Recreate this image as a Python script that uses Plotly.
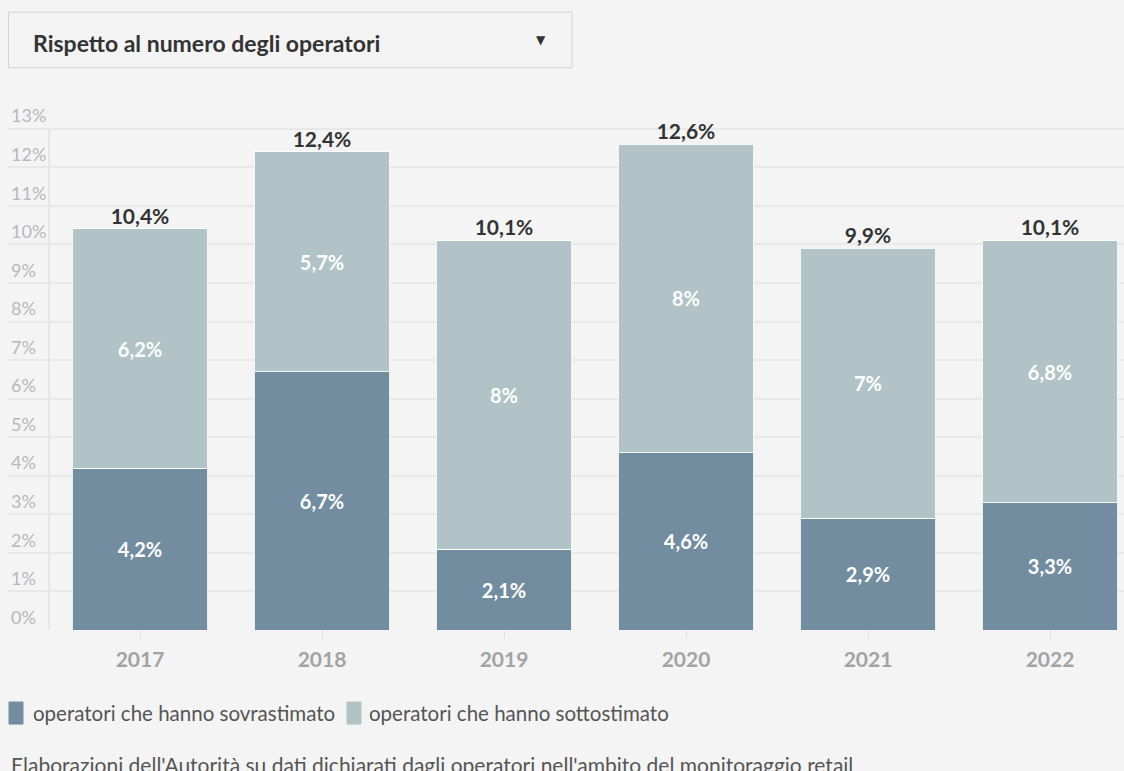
import plotly.graph_objects as go

years = ["2017", "2018", "2019", "2020", "2021", "2022"]
sovrastimato = [4.2, 6.7, 2.1, 4.6, 2.9, 3.3]
sottostimato = [6.2, 5.7, 8.0, 8.0, 7.0, 6.8]
totali = [10.4, 12.4, 10.1, 12.6, 9.9, 10.1]
series_names = ["operatori che hanno sovrastimato", "operatori che hanno sottostimato"]
y_ticks = list(range(0, 14))
dropdown_label = "Rispetto al numero degli operatori"
source_note = "Elaborazioni dell'Autorità su dati dichiarati dagli operatori nell'ambito del monitoraggio retail"

W, H = 1124, 771
YMAX = 13.9
PX_PER_UNIT = 38.54
ZERO_Y = 630
TOP_Y = ZERO_Y - YMAX * PX_PER_UNIT
L, R, T, B = 8, 0, TOP_Y, H - ZERO_Y
FONT = "Lato, 'Source Sans Pro', sans-serif"
BG = "#f4f4f4"


def fmt(v):
    s = ("%.1f" % v).replace(".", ",")
    if s.endswith(",0"):
        s = s[:-2]
    return s + "%"


def px_x(p):
    return (p - L) / (W - L - R)


def px_y(p):
    return (H - B - p) / (H - T - B)


dark = "#728ca0"
light = "#b1c3c6"
colors = [dark, light]

fig = go.Figure()
for vals, name, col in zip([sovrastimato, sottostimato], series_names, colors):
    fig.add_trace(go.Bar(
        x=years, y=vals, name=name,
        marker=dict(color=col, line=dict(color="rgba(255,255,255,0.85)", width=1)),
        text=[fmt(v) for v in vals], textposition="inside", insidetextanchor="middle",
        textfont=dict(family=FONT, size=20, color="white", weight="bold"),
        textangle=0, width=0.747,
        hoverinfo="skip", showlegend=False,
    ))

# totals above each stacked bar
fig.add_trace(go.Scatter(
    x=years, y=totali, mode="text", text=[fmt(v) for v in totali],
    textposition="top center",
    textfont=dict(family=FONT, size=21, color="#333333", weight="bold"),
    hoverinfo="skip", showlegend=False, cliponaxis=False,
))

# dropdown-like header box
fig.add_shape(type="rect", xref="paper", yref="paper",
              x0=px_x(8.5), x1=px_x(572), y0=px_y(68), y1=px_y(12.5),
              line=dict(color="#d2d2d2", width=1), fillcolor=BG)
fig.add_annotation(xref="paper", yref="paper", x=px_x(31), y=px_y(43),
                   xanchor="left", yanchor="middle", showarrow=False,
                   text="<b>" + dropdown_label + "</b>",
                   font=dict(family=FONT, size=23, color="#333333"))
fig.add_annotation(xref="paper", yref="paper", x=px_x(541), y=px_y(40),
                   xanchor="center", yanchor="middle", showarrow=False,
                   text="▼", font=dict(family="DejaVu Sans", size=12, color="#333333"))

# legend (drawn manually to match the original compact layout)
legend_items = [(series_names[0], dark, 9, 31), (series_names[1], light, 347, 367)]
for name, col, sx, tx in legend_items:
    fig.add_shape(type="rect", xref="paper", yref="paper",
                  x0=px_x(sx), x1=px_x(sx + 14), y0=px_y(724), y1=px_y(702),
                  line=dict(color=col, width=1), fillcolor=col)
    fig.add_annotation(xref="paper", yref="paper", x=px_x(tx), y=px_y(713),
                       xanchor="left", yanchor="middle", showarrow=False,
                       text=name, font=dict(family=FONT, size=20.5, color="#555555"))

# source note
fig.add_annotation(xref="paper", yref="paper", x=px_x(9), y=px_y(764),
                   xanchor="left", yanchor="middle", showarrow=False,
                   text=source_note,
                   font=dict(family=FONT, size=21, color="#555555"))

# vertical axis line at category start
fig.add_shape(type="line", xref="x", yref="y", x0=-0.5, x1=-0.5, y0=0, y1=13,
              line=dict(color="#e6e6e6", width=2), layer="above")

fig.update_layout(
    width=W, height=H, autosize=False,
    margin=dict(l=L, r=R, t=T, b=B, pad=0),
    paper_bgcolor=BG, plot_bgcolor=BG,
    barmode="stack", bargap=0.253,
    font=dict(family=FONT, color="#333333"),
    showlegend=False,
    uniformtext=dict(mode=False),
)
fig.update_xaxes(type="category", range=[-0.5 - 41 / 182, -0.5 + (1124 - 49) / 182],
                 showgrid=False, zeroline=False, showline=False,
                 ticks="outside", ticklen=7, tickcolor="#e0e0e0", tickwidth=1,
                 tickfont=dict(family=FONT, size=21, color="#a3a3a3", weight="bold"),
                 ticklabelstandoff=4, fixedrange=True)
fig.update_yaxes(range=[0, YMAX], tickvals=y_ticks, ticktext=[f"{v}%" for v in y_ticks],
                 ticklabelposition="inside top", showgrid=True, gridcolor="#e8e8e8", gridwidth=2,
                 zeroline=False, showline=False, ticks="",
                 tickfont=dict(family=FONT, size=18, color="#b8b8b8"),
                 fixedrange=True)

fig.write_html("out.html", config={"responsive": False, "displayModeBar": False},
               post_script="document.body.style.margin='0';document.body.style.background='%s';"
                           "document.documentElement.style.background='%s';" % (BG, BG))
